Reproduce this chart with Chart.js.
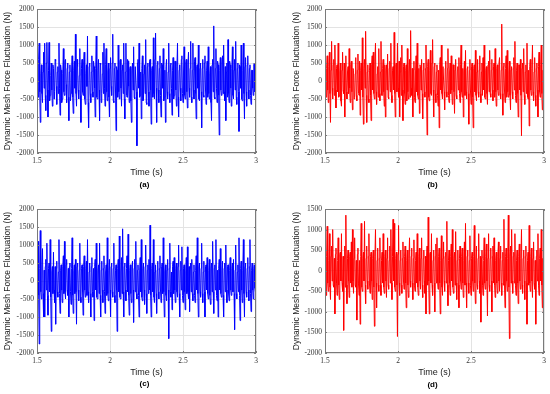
<!DOCTYPE html>
<html><head><meta charset="utf-8">
<script src="https://cdn.jsdelivr.net/npm/chart.js@4/dist/chart.umd.min.js"></script>
<style>
html,body{margin:0;padding:0;background:#fff;overflow:hidden;}
#wrap{position:relative;width:550px;height:394px;}
.p{position:absolute;width:275px;height:197px;}
canvas{display:block;}
</style></head><body>
<div id="wrap">
<div class="p" style="left:0;top:0"><canvas id="ca" width="275" height="197"></canvas></div>
<div class="p" style="left:275px;top:0"><canvas id="cb" width="275" height="197"></canvas></div>
<div class="p" style="left:0;top:197px"><canvas id="cc" width="275" height="197"></canvas></div>
<div class="p" style="left:275px;top:197px"><canvas id="cd" width="275" height="197"></canvas></div>
</div>
<script>
// ---- data (N) ----
const forceA = [
300,-150,-450,600,1050,-300,-1150,200,450,-350,-600,250,800,-200,1050,-400,-820,500,1070,-250,
-1000,300,1070,-550,-400,150,500,-250,-700,450,350,-500,-300,600,550,-150,-650,250,400,-350,
1050,-200,-950,450,300,-600,-500,200,900,-300,-400,550,600,-100,-600,350,500,-450,-1100,250,
450,-550,-350,250,700,-450,-900,300,550,-200,1300,-350,-700,600,400,-250,-500,150,900,-400,
-1150,350,600,-300,-400,500,800,-500,-650,200,450,-150,1250,-600,-1300,400,500,-350,-600,250,
700,-300,-450,550,400,-200,-1000,350,1250,-450,-500,300,600,-250,-1100,500,450,-600,-350,200,
800,-350,1050,-200,-700,450,900,-300,-550,250,500,-450,-1000,350,650,-150,-400,500,1300,-550,
-600,350,500,-250,-1380,400,300,-450,1000,-300,-500,550,600,-200,-700,300,450,-350,1050,-500,
-1050,250,1050,-400,-450,600,550,-150,-600,350,400,-550,-1150,300,500,-250,950,-450,-500,400,
400,-300,-1800,500,600,-200,1050,-450,-400,250,-1050,350,700,-550,-500,200,450,-350,1150,-600,
-650,400,500,-300,-700,550,600,-250,-1200,300,400,-450,1200,-350,-500,600,1330,-200,-1150,450,
550,-250,-600,350,700,-400,-1000,500,450,-200,900,-550,-450,300,-1150,400,600,-300,-500,250,
1050,-350,-600,450,500,-200,-950,300,650,-500,-400,550,550,-250,-700,400,1050,-450,-1000,300,
450,-200,-550,600,700,-350,-600,250,950,-400,-500,500,600,-300,-750,450,800,-200,-450,350,
1100,-450,-600,300,1050,-250,-500,550,650,-350,-1050,400,450,-200,1000,-500,-550,350,500,-300,
-1300,350,600,-400,-450,500,700,-250,-650,300,550,-450,950,-350,-500,200,400,-600,-1100,450,
600,-300,1530,-450,-500,350,900,-200,-600,550,450,-400,-1500,300,650,-250,-400,500,700,-350,
1000,-300,-550,400,-1100,250,500,-450,1150,-350,-600,550,450,-200,-700,350,950,-400,-500,300,
600,-250,1100,-450,-650,350,500,-300,-1400,450,400,-200,1000,-500,-550,300,1050,-350,-1050,400,
650,-300,-700,450,700,-250,-500,350,450,-400,-650,300,300,-200,-400,450,500,-300,0,200
];
const forceB = [
200,-300,-450,350,700,-250,-600,400,800,-350,-1150,300,1100,-200,-500,450,600,-400,1000,-250,
-750,350,450,-300,1050,-450,-400,250,500,-550,-700,300,800,-250,-350,500,-1000,400,700,-300,
-500,250,400,-350,900,-200,-600,450,550,-300,-800,350,300,-500,-450,200,650,-400,-550,300,
750,-350,-400,550,-950,300,500,-250,1200,-450,-1200,350,600,-200,1380,-400,-1150,250,450,-500,
-600,300,500,-400,-1100,450,700,-250,800,-350,-500,550,1050,-300,-650,200,400,-450,900,-350,
-550,250,1100,-400,-400,350,600,-300,-700,450,-1000,300,450,-250,750,-450,-500,350,550,-300,
1050,-400,-600,300,400,-250,1350,-350,-1000,450,500,-300,1050,-200,-450,550,-1000,250,650,-400,
1000,-250,-1100,400,500,-350,-650,300,450,-550,900,-300,-500,250,600,-450,1400,-200,-400,350,
-1000,300,550,-450,-600,250,700,-300,1050,-400,-500,350,-900,450,400,-250,600,-350,-1050,300,
500,-300,-450,350,1000,-250,-1500,400,600,-450,-550,300,850,-350,-400,500,1150,-250,-1000,400,
500,-350,-600,250,450,-400,-700,300,-1300,450,650,-250,1000,-350,-500,400,400,-300,-800,350,
550,-300,-450,350,900,-400,-600,250,500,-350,700,-250,-650,450,450,-300,-900,300,600,-400,
-500,300,400,-250,650,-350,-600,450,1000,-300,-450,350,-1000,250,550,-400,850,-300,-500,350,
400,-350,-1200,300,600,-250,-650,400,500,-450,-1300,350,450,-300,850,-400,-550,250,600,-300,
-450,300,700,-350,-600,250,500,-400,650,-250,1000,-450,-500,300,400,-350,-650,450,550,-300,
850,-350,-450,300,600,-250,-550,400,500,-450,900,-300,-700,350,450,-250,-400,500,650,-350,
-500,300,1580,-350,-950,400,500,-250,-600,350,700,-450,850,-300,-450,250,550,-400,-800,300,
400,-300,-500,350,650,-250,1100,-400,-600,300,500,-350,-1000,450,450,-250,600,-400,-1520,350,
500,-300,900,-400,-650,250,450,-350,1050,-450,-500,300,-1250,400,600,-250,-400,350,1000,-300,
-550,250,650,-400,-700,350,500,-250,-1000,400,800,-300,-450,450,1000,-350,-800,300,300,-200
];
const forceC = [
300,-250,1100,-400,-1750,350,1400,-300,-500,450,900,-350,-1000,300,-1000,400,600,-250,1050,-400,
-950,350,500,-300,1150,-450,-1400,250,400,-350,800,-250,-600,400,-1200,350,550,-300,-450,250,
1150,-350,-900,300,450,-250,-600,400,700,-350,1100,-300,-500,450,600,-250,-400,350,-1000,400,
500,-300,-650,350,1200,-400,-900,250,450,-350,600,-300,-1200,400,500,-250,-550,300,1050,-450,
-600,350,450,-300,-950,400,700,-250,-450,350,550,-400,1150,-300,-600,250,500,-350,-1000,400,
650,-300,-450,350,-1100,400,600,-250,1050,-450,-500,300,450,-350,1050,-400,-1000,300,550,-250,
-600,350,700,-300,-900,250,450,-400,1200,-350,-550,300,600,-250,-1000,400,500,-300,-450,350,
1050,-400,-600,300,450,-250,-1400,350,600,-300,1250,-450,-500,250,650,-350,1450,-300,-1000,400,
500,-250,-550,350,700,-300,1300,-400,-950,300,450,-350,-600,400,550,-250,-1150,350,600,-300,
1100,-350,-500,300,450,-400,-1000,250,650,-300,1150,-450,-550,350,500,-250,-650,400,1000,-350,
-900,300,450,-350,600,-250,1550,-400,-1000,350,500,-300,1150,-450,-600,250,450,-350,-900,300,
550,-300,-500,350,700,-250,-600,400,500,-350,1200,-300,-1000,250,450,-400,-550,300,600,-250,
-1600,350,1050,-300,-450,250,-800,400,550,-350,650,-250,-600,350,500,-300,-450,400,1000,-350,
-1000,300,550,-250,950,-400,-600,350,450,-300,-800,250,650,-350,950,-300,-500,400,-850,350,
500,-300,600,-350,-550,250,450,-400,-600,300,700,-250,1200,-350,-1000,400,500,-300,-450,350,
1050,-350,-600,250,550,-300,-1000,400,450,-250,650,-350,-500,300,600,-400,-650,350,500,-300,
1100,-300,-900,350,450,-250,1150,-400,-550,300,-1000,350,600,-250,900,-350,-450,300,550,-400,
-1000,350,500,-300,1000,-250,-600,400,450,-350,-550,300,650,-250,-400,350,500,-300,600,-350,
-1350,300,1000,-350,-500,250,450,-300,1200,-400,-1100,350,550,-250,-600,300,1150,-350,-1000,400,
500,-300,-450,350,650,-250,-550,400,1150,-350,-850,300,500,-250,-500,350,450,-200,-300,150
];
const forceD = [
400,-250,-600,350,1080,-300,-500,250,900,-400,-700,350,600,-250,1000,-350,-400,300,-1050,400,
550,-300,-600,250,800,-350,-700,400,450,-250,900,-300,-500,350,-1450,300,600,-400,1350,-350,
-800,300,500,-250,-650,350,450,-300,700,-400,1000,-250,-550,300,800,-350,-400,250,-1200,400,
550,-300,-600,250,-1300,350,1150,-400,-500,300,450,-250,1200,-350,-800,300,600,-250,-450,350,
900,-300,-550,350,450,-250,-700,300,500,-400,-1350,350,1000,-300,-900,250,550,-350,-500,300,
800,-350,-600,250,450,-300,900,-400,-550,350,500,-250,-650,300,800,-350,-450,250,600,-300,
1000,-300,-700,350,1250,-250,1150,-400,-500,300,450,-350,-1600,400,1100,-300,-600,250,500,-350,
-550,300,700,-250,-450,350,600,-300,-900,250,500,-350,-650,300,800,-250,-400,350,550,-300,
-700,300,750,-350,-500,250,450,-300,900,-400,-600,350,550,-250,-450,300,800,-350,-650,300,
500,-250,-550,350,-1050,300,600,-350,1300,-250,-1050,400,450,-300,900,-350,-600,250,500,-300,
-1000,350,650,-300,800,-250,-450,350,550,-300,-1050,250,850,-400,-600,300,700,-250,-500,350,
450,-300,1200,-350,-850,250,500,-300,-600,350,650,-250,1000,-400,-550,300,450,-350,950,-300,
-700,250,500,-350,-900,300,600,-250,-450,350,550,-300,-650,250,700,-350,1150,-300,-900,350,
500,-300,-550,250,850,-350,-600,300,450,-250,-500,350,1100,-300,-800,250,600,-350,-450,300,
900,-250,-550,350,-1250,300,500,-350,-600,250,800,-300,-450,350,650,-250,-1100,300,900,-350,
-500,300,550,-250,-1000,350,600,-300,800,-350,-650,250,450,-300,-550,350,700,-250,-500,300,
600,-300,-600,250,450,-350,1250,-300,-900,350,550,-250,-500,300,1350,-400,-1650,350,600,-300,
1000,-250,-550,350,450,-300,900,-350,-600,250,500,-300,-800,350,650,-250,-450,300,1000,-350,
-550,300,500,-250,-700,350,600,-300,-1300,250,450,-350,1100,-300,-500,350,550,-250,-650,300,
700,-300,-450,250,-1300,350,500,-250,900,-350,-600,300,550,-250,1000,-350,-900,300,-1000,250
];
const timeStart = 1.5, timeEnd = 3.0;          // sampled time window (s)
const xTicks = [1.5, 2, 2.5, 3];
const yTicksFull = [-2000,-1500,-1000,-500,0,500,1000,1500,2000];
const yTicksD = [-2000,-1500,-1000,-500,0,500,1000,1500];
const panelLabels = ['(a)','(b)','(c)','(d)'];
const colors = ['#0000ff','#ff0000','#0000ff','#ff0000'];
const yTitle = 'Dynamic Mesh Force Fluctuation (N)';
const xTitle = 'Time (s)';

// sample times (uniform sampling grid across the window)
function sampleTimes(n){ const t=[]; for(let i=0;i<n;i++){ t.push(timeStart + (timeEnd-timeStart)*i/(n-1)); } return t; }

const framePlugin = {
  id:'frame',
  afterDatasetsDraw(chart){
    const {ctx, chartArea:a, scales:{x,y}} = chart;
    ctx.save();
    ctx.strokeStyle = '#7a7a7a';
    ctx.lineWidth = 1;
    ctx.strokeRect(Math.round(a.left)+0.5, Math.round(a.top)+0.5, Math.round(a.right-a.left)-1, Math.round(a.bottom-a.top)-1);
    ctx.beginPath();
    x.ticks.forEach(t=>{ const px=Math.round(x.getPixelForValue(t.value))+0.5; ctx.moveTo(px,a.bottom); ctx.lineTo(px,a.bottom-2); ctx.moveTo(px,a.top); ctx.lineTo(px,a.top+2); });
    y.ticks.forEach(t=>{ const py=Math.round(y.getPixelForValue(t.value))+0.5; ctx.moveTo(a.left,py); ctx.lineTo(a.left+2,py); ctx.moveTo(a.right,py); ctx.lineTo(a.right-2,py); });
    ctx.stroke();
    ctx.restore();
  },
  afterDraw(chart, args, opts){
    const {ctx, chartArea:a} = chart;
    ctx.save();
    ctx.font = 'bold 8px "Liberation Sans", Arial, sans-serif';
    ctx.fillStyle = '#000';
    ctx.textAlign = 'center';
    ctx.textBaseline = 'middle';
    ctx.fillText(opts.label, (a.left+a.right)/2 - 2, a.bottom + opts.labelGap);
    ctx.restore();
  }
};

function makeChart(id, values, color, yTicks, label, geo){
  const times = sampleTimes(values.length);
  const pts = values.map((v,i)=>({x:times[i], y:v}));
  return new Chart(document.getElementById(id), {
    type:'line',
    data:{datasets:[{data:pts, borderColor:color, borderWidth:1, pointRadius:0, fill:false, tension:0}]},
    plugins:[framePlugin],
    options:{
      responsive:false, animation:false, devicePixelRatio:1,
      layout:{padding:{top:geo.top, right:geo.right, bottom:0, left:geo.padLeft}},
      plugins:{legend:{display:false}, tooltip:{enabled:false}, frame:{label:label, labelGap:geo.labelGap}},
      scales:{
        x:{type:'linear', min:timeStart, max:timeEnd,
          afterBuildTicks(s){ s.ticks = xTicks.map(v=>({value:v})); },
          afterFit(s){ s.height = geo.xh; },
          grid:{color:'#e3e3e3', drawTicks:false, lineWidth:1},
          border:{display:false},
          ticks:{padding:4, color:'#333', font:{family:'"Liberation Serif", "Times New Roman", serif', size:7.5}, maxRotation:0, callback:v=>String(v)},
          title:{display:true, text:xTitle, color:'#222', font:{family:'"Liberation Sans", Arial, sans-serif', size:9}, padding:{top:0,bottom:geo.xTitlePad}}
        },
        y:{type:'linear', min:yTicks[0], max:yTicks[yTicks.length-1],
          afterBuildTicks(s){ s.ticks = yTicks.map(v=>({value:v})); },
          afterFit(s){ s.width = geo.yw; },
          grid:{color:'#e3e3e3', drawTicks:false, lineWidth:1},
          border:{display:false},
          ticks:{padding:3, color:'#333', font:{family:'"Liberation Serif", "Times New Roman", serif', size:7.5}, callback:v=>String(v)},
          title:{display:true, text:yTitle, color:'#222', font:{family:'"Liberation Sans", Arial, sans-serif', size:8.5}, padding:{top:2.5,bottom:0}}
        }
      }
    }
  });
}

makeChart('ca', forceA, colors[0], yTicksFull, panelLabels[0], {top:9, right:19, padLeft:0, yw:37, xh:44, xTitlePad:19.5, labelGap:31.5});
makeChart('cb', forceB, colors[1], yTicksFull, panelLabels[1], {top:9, right:6, padLeft:14, yw:36, xh:44, xTitlePad:19.5, labelGap:32});
makeChart('cc', forceC, colors[2], yTicksFull, panelLabels[2], {top:12, right:19, padLeft:0, yw:37, xh:41, xTitlePad:16.5, labelGap:31});
makeChart('cd', forceD, colors[3], yTicksD, panelLabels[3], {top:12, right:6, padLeft:14, yw:36, xh:41, xTitlePad:16.5, labelGap:32});
</script>
</body></html>
